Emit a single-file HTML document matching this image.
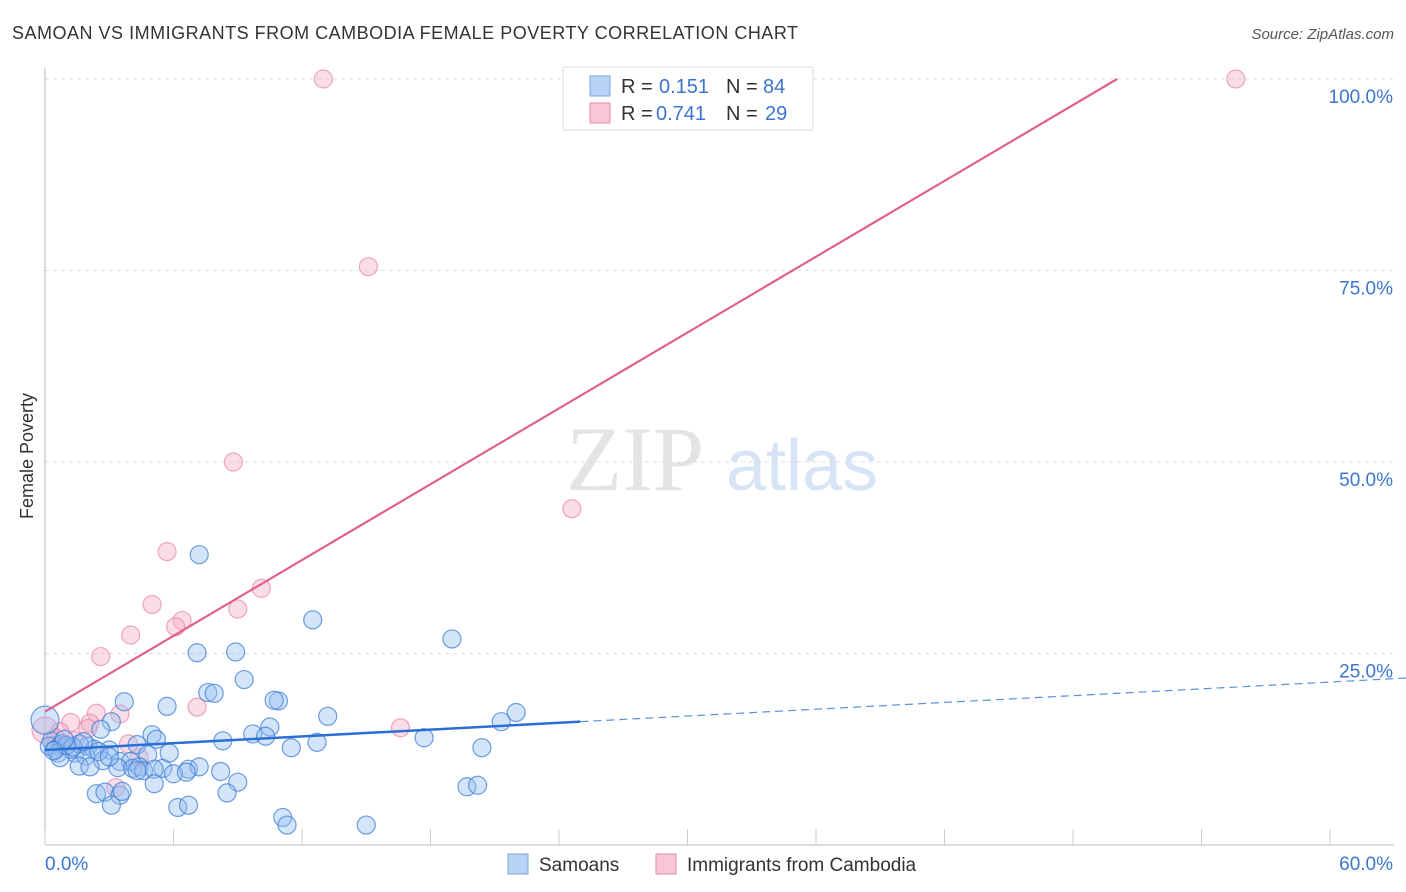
<!DOCTYPE html>
<html><head><meta charset="utf-8"><style>
body{margin:0;background:#fff;font-family:"Liberation Sans",sans-serif}
</style></head><body>
<svg id="chart" width="1406" height="892" xmlns="http://www.w3.org/2000/svg" style="display:block">
<text x="12" y="39" font-size="18" fill="#333" font-family="Liberation Sans, sans-serif" textLength="786">SAMOAN VS IMMIGRANTS FROM CAMBODIA FEMALE POVERTY CORRELATION CHART</text>
<text x="1394" y="39" font-size="15" fill="#555" text-anchor="end" font-style="italic">Source: ZipAtlas.com</text>
<text transform="translate(33,456) rotate(-90)" font-size="18" fill="#333" text-anchor="middle">Female Poverty</text>
<g>
<text x="635" y="490" font-size="92" fill="#e4e4e4" font-family="Liberation Serif, serif" text-anchor="middle">ZIP</text>
<text x="802" y="490" font-size="72" fill="#d6e4f5" text-anchor="middle">atlas</text>
</g>
<g id="grid"></g>
<g id="axes"></g>
<g id="marks"></g>
<g>
<rect x="563" y="67" width="250" height="63" fill="#fff" stroke="#ddd"/>
<rect x="590" y="76" width="20" height="20" fill="#b8d3f5" stroke="#7aa6e0"/>
<text x="621" y="93" font-size="20" fill="#333">R = </text><text x="659" y="93" font-size="20" fill="#3b75d0">0.151</text>
<text x="726" y="93" font-size="20" fill="#333">N = </text><text x="763" y="93" font-size="20" fill="#3b75d0">84</text>
<rect x="590" y="103" width="20" height="20" fill="#f9c6d6" stroke="#e88aa8"/>
<text x="621" y="120" font-size="20" fill="#333">R = </text><text x="656" y="120" font-size="20" fill="#3b75d0">0.741</text>
<text x="726" y="120" font-size="20" fill="#333">N = </text><text x="765" y="120" font-size="20" fill="#3b75d0">29</text>
</g>
<g>
<rect x="508" y="854" width="20" height="20" fill="#b8d3f5" stroke="#7aa6e0"/>
<text x="539" y="871" font-size="19" fill="#333">Samoans</text>
<rect x="656" y="854" width="20" height="20" fill="#f9c6d6" stroke="#e88aa8"/>
<text x="687" y="871" font-size="19" fill="#333">Immigrants from Cambodia</text>
</g>
</svg>
<script>
const xTicks=[0,6,12,18,24,30,36,42,48,54,60];
const yTicks=[25,50,75,100];
const blueX=[7.2,12.5,19.0,7.1,8.9,9.3,7.6,7.9,10.9,10.7,3.7,5.7,3.1,13.2,22.0,21.3,10.5,5.0,5.2,9.7,10.3,2.6,8.3,12.7,11.5,17.7,20.4,4.3,3.0,0.7,1.4,2.0,2.3,0.3,0.2,0.5,0.8,1.2,1.6,0.6,0.7,1.9,4.8,3.5,4.0,2.7,1.6,2.1,3.4,4.1,4.4,4.6,4.3,5.5,6.7,5.1,7.2,6.0,6.6,8.2,9.0,5.1,8.5,19.7,20.2,2.4,2.8,3.5,3.6,3.1,6.2,6.7,11.1,11.3,15.0,0.0,1.0,1.3,2.5,0.9,1.8,3.0,5.8,0.4];
const blueY=[37.9,29.4,26.9,25.1,25.2,21.6,19.9,19.8,18.8,18.9,18.7,18.1,16.1,16.8,17.3,16.1,15.4,14.4,13.8,14.5,14.2,15.1,13.6,13.4,12.7,14.0,12.7,13.1,12.4,12.9,12.0,12.9,12.5,13.6,12.9,12.5,13.2,12.5,13.2,12.0,11.4,11.6,11.8,10.9,10.9,11.0,10.3,10.2,10.1,10.0,10.2,9.7,9.7,10.0,9.9,9.9,10.2,9.3,9.5,9.6,8.2,8.0,6.8,7.6,7.8,6.7,6.9,6.5,7.0,5.2,4.9,5.2,3.6,2.6,2.6,16.3,13.0,12.8,12.2,13.8,13.5,11.5,12.0,12.3];
const pinkX=[13.0,55.6,15.1,8.8,24.6,5.7,5.0,6.4,9.0,10.1,4.0,6.1,2.6,7.1,3.5,2.4,1.2,2.1,2.0,0.7,0.5,0.9,0.0,3.9,16.6,4.4,3.3,0.5,1.4];
const pinkY=[100,100,75.5,50.0,43.9,38.3,31.4,29.3,30.8,33.5,27.4,28.5,24.6,18.0,17.1,17.2,16.0,15.9,15.2,14.8,14.0,13.0,15.0,13.2,15.3,11.4,7.5,13.0,13.6];
const blueFit=[12.4,0.148];
const pinkFit=[17.4,1.65];
const X0=45,X1=1330,Y0=845,Y1=79;
function sx(v){return X0+(v-0)/60*(X1-X0);}
function sy(v){return Y0-(v/100)*(Y0-Y1);}
const NS="http://www.w3.org/2000/svg";
function mk(tag,attrs,parent){const e=document.createElementNS(NS,tag);for(const k in attrs)e.setAttribute(k,attrs[k]);parent.appendChild(e);return e;}
const grid=document.getElementById('grid'),axes=document.getElementById('axes'),marks=document.getElementById('marks');
yTicks.forEach(t=>{
 const l=mk('line',{x1:X0,x2:1394,y1:sy(t),y2:sy(t),stroke:'#ddd','stroke-dasharray':'4,4'},grid);
 
 
 const tx=mk('text',{x:1393,y:sy(t)+24,'font-size':19,fill:'#3b75d0','text-anchor':'end'},axes);
 tx.textContent=t.toFixed(1)+'%';
 
 
});
const ax=mk('line',{x1:X0,x2:X0,y1:68,y2:Y0,stroke:'#bbb'},axes);


const bx=mk('line',{x1:X0,x2:1394,y1:Y0,y2:Y0,stroke:'#bbb'},axes);


xTicks.forEach(t=>{
 const l=mk('line',{x1:sx(t),x2:sx(t),y1:Y0,y2:Y0-16,stroke:'#ccc'},axes);
 
 
});
[[0,'start',45],[60,'end',1393]].forEach(([v,a,x])=>{
 const tx=mk('text',{x:x,y:870,'font-size':19,fill:'#3b75d0','text-anchor':a},axes);
 tx.textContent=v.toFixed(1)+'%';
 
 
});
pinkX.forEach((x,i)=>{
 const big=(x===0);
 const c=mk('circle',{cx:sx(x),cy:sy(pinkY[i]),r:big?13:9,fill:'rgba(246,170,195,0.4)',stroke:'rgba(232,130,165,0.7)','stroke-width':1.2},marks);
 
 
});
blueX.forEach((x,i)=>{
 const big=(x===0);
 const c=mk('circle',{cx:sx(x),cy:sy(blueY[i]),r:big?14:9,fill:'rgba(150,190,240,0.4)',stroke:'rgba(60,125,215,0.75)','stroke-width':1.2},marks);
 
 
});
const pxEnd=(100-pinkFit[0])/pinkFit[1];
const pl=mk('line',{x1:sx(0),y1:sy(pinkFit[0]),x2:sx(pxEnd),y2:sy(100),stroke:'#e0608e','stroke-width':2.2},marks);


const bl=mk('line',{x1:sx(0),y1:sy(blueFit[0]),x2:sx(25),y2:sy(blueFit[0]+blueFit[1]*25),stroke:'#2a6fd6','stroke-width':2.5},marks);


const bd=mk('line',{x1:sx(25),y1:sy(blueFit[0]+blueFit[1]*25),x2:1406,y2:sy(blueFit[0]+blueFit[1]*63.5),stroke:'#5a90dd','stroke-width':1.2,'stroke-dasharray':'8,5'},marks);


</script>
</body></html>
